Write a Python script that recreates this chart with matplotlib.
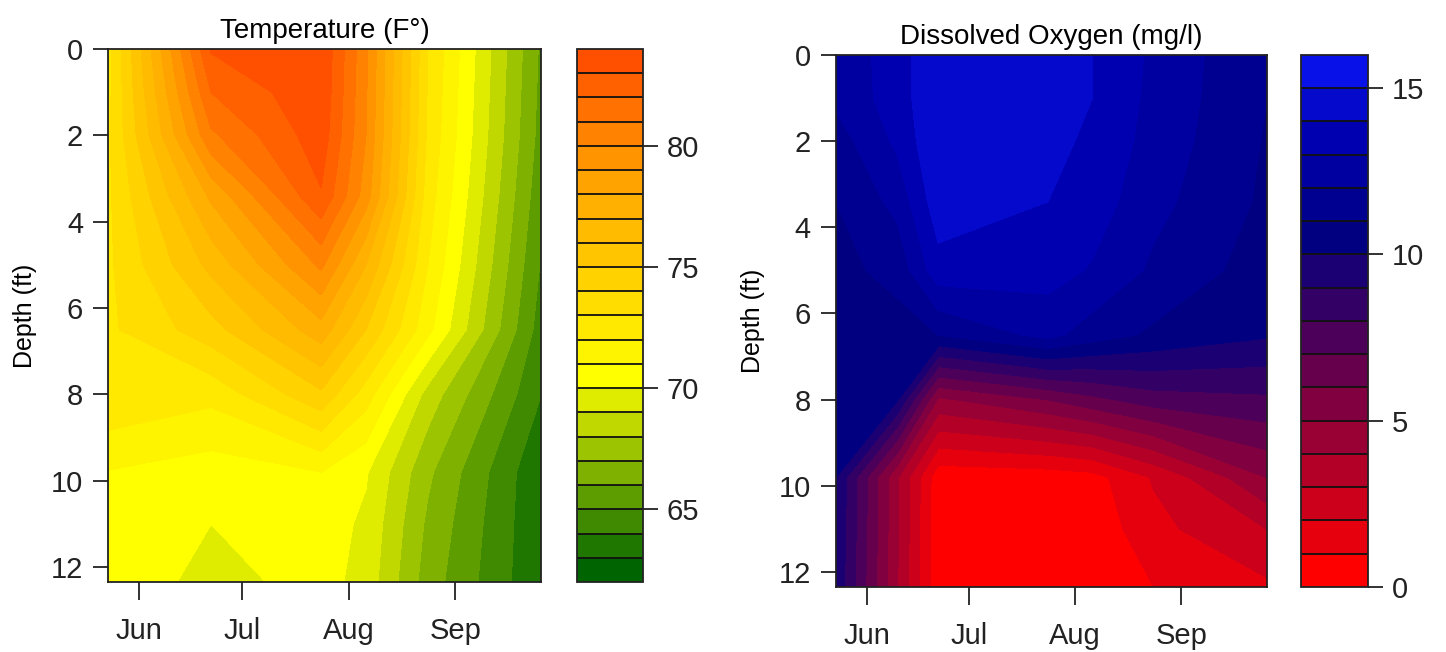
import numpy as np
import matplotlib.pyplot as plt
from matplotlib.colors import LinearSegmentedColormap

plt.rcParams["font.family"] = ["Liberation Sans", "DejaVu Sans"]

# depths (ft) shared by both panels
depths = [0, 1, 2, 3.4, 5, 6.5, 8, 9.8, 11, 12.35]

# temperature (F): dates as day of year, one row per depth
temp_days = [143, 173, 205, 218, 236, 269]
temp = [
    [72.6, 83.1, 83.9, 80.2, 73.0, 65.8],
    [72.7, 82.0, 83.8, 80.1, 72.9, 65.7],
    [72.8, 80.8, 83.6, 80.0, 72.8, 65.6],
    [72.8, 78.2, 82.9, 79.5, 72.5, 65.3],
    [72.8, 76.3, 80.2, 77.0, 72.0, 64.9],
    [72.8, 74.6, 77.6, 75.0, 71.3, 64.5],
    [72.9, 72.3, 74.8, 72.5, 68.6, 64.0],
    [70.95, 70.5, 71.0, 70.1, 67.2, 63.1],
    [70.8, 70.0, 70.5, 69.8, 66.8, 63.1],
    [70.8, 69.6, 70.4, 69.6, 66.5, 63.1],
]

# dissolved oxygen (mg/l)
do_days = [143, 161, 173, 205, 218, 236, 269]
oxygen = [
    [12.3, 13.5, 14.9, 14.5, 14.0, 12.8, 11.0],
    [12.2, 13.5, 14.9, 14.5, 14.0, 12.7, 11.0],
    [11.5, 13.2, 14.9, 14.3, 13.8, 12.6, 10.9],
    [11.0, 12.3, 14.6, 14.0, 13.5, 12.3, 10.8],
    [10.7, 11.3, 13.6, 13.4, 12.9, 11.8, 10.5],
    [10.5, 10.6, 11.0, 12.3, 11.5, 10.8, 10.1],
    [10.3, 10.05, 4.8, 6.0, 6.7, 7.5, 7.8],
    [10.0, 4.1, 0.3, 0.4, 0.6, 2.1, 5.0],
    [9.9, 4.1, 0.2, 0.2, 0.3, 1.7, 3.0],
    [9.8, 4.0, 0.2, 0.2, 0.2, 1.0, 1.8],
]

month_days = [152, 182, 213, 244]
month_names = ["Jun", "Jul", "Aug", "Sep"]

temp_levels = np.arange(62, 85, 1)
do_levels = np.arange(0, 17, 1)
temp_ticks = [65, 70, 75, 80]
do_ticks = [0, 5, 10, 15]

temp_cmap = LinearSegmentedColormap.from_list(
    "temp", [(0, "#006400"), (0.381, "#FFFF00"), (0.76, "#FFA500"), (1, "#FF5000")])
do_cmap = LinearSegmentedColormap.from_list(
    "do", [(0, "#FF0000"), (0.667, "#000080"), (0.867, "#0000B0"), (1, "#0812E8")])

fig = plt.figure(figsize=(14.46, 6.52), dpi=100)


def panel(rect, crect, x, z, levels, cmap, ticks, title):
    ax = fig.add_axes(rect)
    cax = fig.add_axes(crect)
    n = len(levels) - 1
    cols = [cmap(i / (n - 1)) for i in range(n)]
    cs = ax.contourf(x, depths, z, levels=levels, colors=cols)
    cs.set_edgecolor("face")
    cs.set_linewidth(0.4)
    ax.set_xlim(x[0], x[-1])
    ax.set_ylim(depths[-1], 0)
    ax.set_yticks(range(0, 13, 2))
    ax.set_xticks(month_days)
    ax.set_xticklabels(month_names)
    ax.set_ylabel("Depth (ft)", fontsize=18, labelpad=10)
    ax.set_title(title, fontsize=20, pad=8)
    ax.tick_params(axis="y", length=11, width=1.3, labelsize=21, pad=7, colors="#222222")
    ax.tick_params(axis="x", length=13, width=1.3, labelsize=21, pad=12, colors="#222222")
    for s in ax.spines.values():
        s.set_linewidth(1.3)
        s.set_color("#222222")

    cb = fig.colorbar(cs, cax=cax, drawedges=True)
    cb.set_ticks(ticks)
    cb.outline.set_linewidth(1.3)
    cb.outline.set_edgecolor("#222222")
    cb.dividers.set_linewidth(1.3)
    cb.dividers.set_color("#111111")
    cax.tick_params(length=11, width=1.3, labelsize=21, pad=6, colors="#222222")
    return ax


panel([0.0747, 0.1074, 0.2995, 0.8175], [0.399, 0.1074, 0.0456, 0.8175],
      temp_days, temp, temp_levels, temp_cmap, temp_ticks, "Temperature (F°)")
panel([0.578, 0.0997, 0.298, 0.816], [0.8997, 0.0997, 0.0463, 0.816],
      do_days, oxygen, do_levels, do_cmap, do_ticks, "Dissolved Oxygen (mg/l)")

plt.savefig("out.png", dpi=100)
